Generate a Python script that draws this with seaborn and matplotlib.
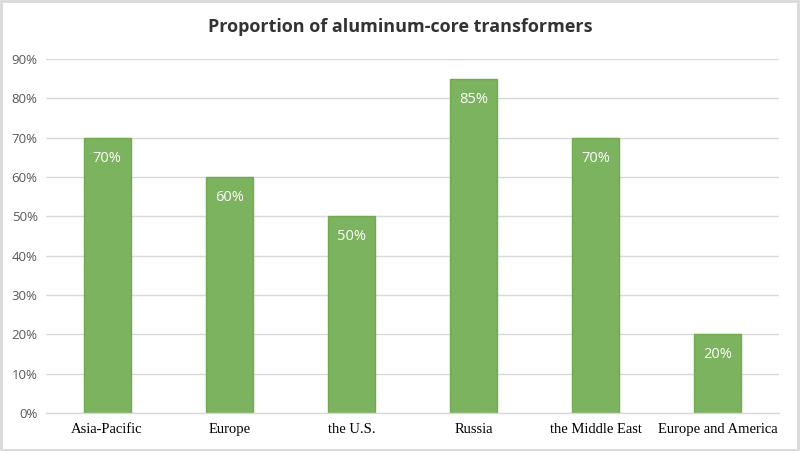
import matplotlib
matplotlib.use("Agg")
import matplotlib.pyplot as plt
import matplotlib.patches as mpatches
import seaborn as sns
import pandas as pd

# Data
regions = ["Asia-Pacific", "Europe", "the U.S.", "Russia", "the Middle East", "Europe and America"]
shares = [70, 60, 50, 85, 70, 20]
y_ticks = [0, 10, 20, 30, 40, 50, 60, 70, 80, 90]

df = pd.DataFrame({"region": regions, "share": shares})

sns.set_style("white")
plt.rcParams['font.family'] = ['Open Sans', 'DejaVu Sans']

fig = plt.figure(figsize=(8, 4.51), dpi=100)
ax = fig.add_axes([46 / 800, (451 - 413) / 451, (779 - 46) / 800, (413 - 59) / 451])

sns.barplot(data=df, x="region", y="share", color="#7cb35e", width=0.385,
            edgecolor="#6fac4c", linewidth=1, saturation=1, ax=ax)

ax.set_ylim(0, 90)
ax.set_xlim(-0.5, len(regions) - 0.5)
ax.set_yticks(y_ticks)
ax.set_yticklabels([f"{t}%" for t in y_ticks], color="#595959", fontsize=9.5)
ax.yaxis.grid(True, color="#d9d9d9", linewidth=1)
ax.set_axisbelow(True)
ax.tick_params(axis="y", length=0, pad=6)

# category separators on x axis
ax.set_xticks([i - 0.5 for i in range(len(regions) + 1)], minor=True)
ax.tick_params(axis="x", which="minor", length=5, color="#d9d9d9", width=1)
ax.tick_params(axis="x", which="major", length=0, pad=7)
ax.set_xticklabels(regions, family="Liberation Serif", fontsize=10.5, color="#000000")

for s in ["top", "right", "left"]:
    ax.spines[s].set_visible(False)
ax.spines["bottom"].set_color("#d9d9d9")
ax.spines["bottom"].set_linewidth(1)

ax.set_xlabel("")
ax.set_ylabel("")

for bar, v in zip(ax.patches, shares):
    ax.text(bar.get_x() + bar.get_width() / 2, v - 5.2, f"{v}%", ha="center", va="center",
            color="white", fontsize=10.5)

fig.text(0.5, 1 - 27 / 451, "Proportion of aluminum-core transformers", ha="center", va="center",
         fontsize=13, fontweight="bold", color="#333333")

# outer border
fig.patches.append(mpatches.Rectangle((0.001, 0.002), 0.997, 0.995, transform=fig.transFigure,
                                      fill=False, edgecolor="#d9d9d9", linewidth=2))

fig.savefig("out.png", dpi=100)
